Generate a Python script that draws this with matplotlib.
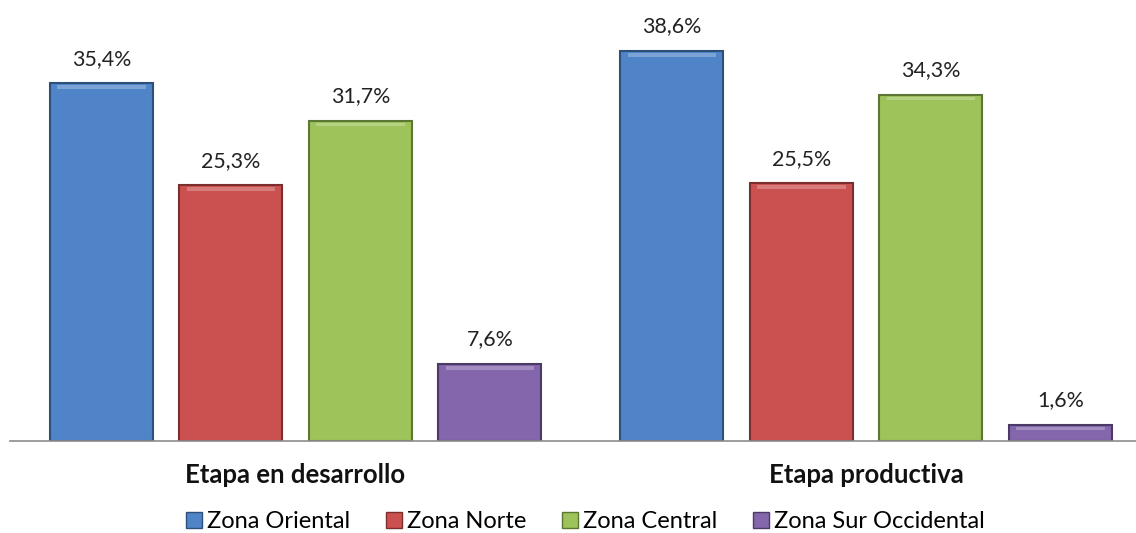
import matplotlib
matplotlib.use('Agg')
import matplotlib.pyplot as plt
import numpy as np
from matplotlib.lines import Line2D

plt.rcParams['font.family'] = ['Lato', 'DejaVu Sans']

stages = ['Etapa en desarrollo', 'Etapa productiva']
zones = ['Zona Oriental', 'Zona Norte', 'Zona Central', 'Zona Sur Occidental']
colors = ['#4F85C8', '#CB5150', '#9DC35A', '#8466AC']
edge_colors = ['#2E4F7A', '#7A2E2D', '#5C7633', '#4B3A66']
oriental = [35.4, 38.6]
norte = [25.3, 25.5]
central = [31.7, 34.3]
sur_occ = [7.6, 1.6]
series = [oriental, norte, central, sur_occ]

fig = plt.figure(figsize=(11.36, 5.33), dpi=100)
ax = fig.add_axes([0, 0.1726, 1, 0.7580])

x = np.arange(len(stages))
width = 0.1805
step = 0.227

for i, vals in enumerate(series):
    pos = x + (i - 1.5) * step
    ax.bar(pos, vals, width, color=colors[i], edgecolor=edge_colors[i], linewidth=1.5, zorder=2)
    # light bevel strip on top of the bars
    ax.bar(pos, [0.35] * len(vals), width * 0.86, bottom=np.array(vals) - 0.55,
           color='white', alpha=0.25, linewidth=0, zorder=3)
    for p, v in zip(pos, vals):
        ax.text(p, v + 2.45, f'{v:.1f}%'.replace('.', ','), ha='center', va='center',
                fontsize=15.4, color='#222222')

ax.set_xlim(-0.518, 1.473)
ax.set_ylim(0, 40)
for s in ['top', 'right', 'left']:
    ax.spines[s].set_visible(False)
ax.spines['bottom'].set_bounds(-0.5, 1.5)
ax.spines['bottom'].set_color('#8C8C8C')
ax.spines['bottom'].set_linewidth(1.2)
ax.set_yticks([])
ax.set_xticks(x)
ax.set_xticklabels(stages, fontsize=18.5, fontweight='bold', color='#111111')
ax.tick_params(axis='x', length=0, pad=16)

handles = [Line2D([0], [0], marker='s', linestyle='', markersize=11,
                  markerfacecolor=c, markeredgecolor=e) for c, e in zip(colors, edge_colors)]
fig.legend(handles, zones, loc='center', bbox_to_anchor=(0.515, 0.022), ncol=4,
           frameon=False, fontsize=17, handletextpad=0.2, columnspacing=1.5,
           handlelength=0.7)

fig.savefig('out.png', dpi=100)
